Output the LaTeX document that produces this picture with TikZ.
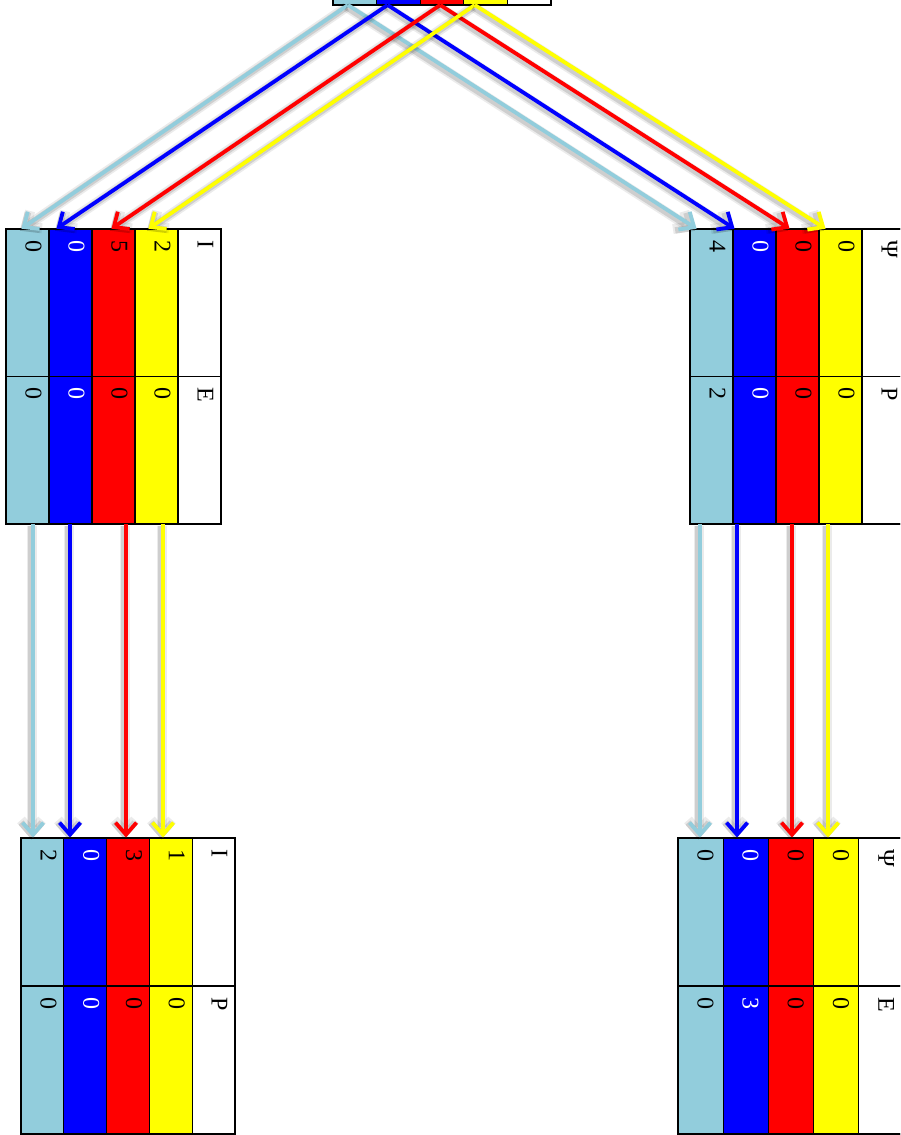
\documentclass[tikz,border=0pt]{standalone}
\usepackage{fontspec}
\setmainfont{Liberation Serif}
\usetikzlibrary{arrows.meta}
\definecolor{cLB}{RGB}{146,205,220}
\definecolor{cB}{RGB}{0,0,255}
\definecolor{cR}{RGB}{255,0,0}
\definecolor{cY}{RGB}{255,255,0}
\tikzset{
  cellbox/.style={draw, line width=1.3pt, inner sep=0pt, outer sep=0pt, anchor=north west},
  celltext/.style={rotate=-90, anchor=base west, inner sep=0pt, outer sep=0pt, font=\fontsize{24}{30}\selectfont},
  arr/.style={line width=3.8pt, -{Straight Barb[length=12pt,width=21pt]}, shorten >=0.5pt,
    preaction={draw=black, opacity=0.08, line width=10pt, transform canvas={shift={(-1.5pt,-2pt)}}},
    preaction={draw=black, opacity=0.12, line width=6.5pt, transform canvas={shift={(-1.5pt,-2pt)}}}},
  frame/.style={draw, line width=2.2pt}
}
% #1 name, #2 x, #3 y, #4 width, #5 row height, #6 fill, #7 text colour, #8 top label, #9 bottom label
\newcommand\tcol[9]{%
  \node[cellbox, fill=#6, minimum width=#4pt, minimum height=#5pt] (#1a) at (#2,#3) {};
  \node[cellbox, fill=#6, minimum width=#4pt, minimum height=#5pt] (#1b) at (#1a.south west) {};
  \coordinate (#1ap) at ([shift={(19.5pt,-11pt)}]#1a.north west);
  \coordinate (#1bp) at ([shift={(19.5pt,-11pt)}]#1b.north west);
  \node[celltext, text=#7] (#1at) at (#1ap) {#8};
  \node[celltext, text=#7] (#1bt) at (#1bp) {#9};
}
\begin{document}
\begin{tikzpicture}[x=1pt, y=-1pt]
\useasboundingbox (0,0) rectangle (900,1135);
\clip (0,0) rectangle (900,1135);

% top (partly visible) table
\node[cellbox, fill=cLB,   minimum width=43.6pt, minimum height=148pt] (T1) at (333,-143) {};
\node[cellbox, fill=cB,    minimum width=43.6pt, minimum height=148pt] (T2) at (T1.north east) {};
\node[cellbox, fill=cR,    minimum width=43.6pt, minimum height=148pt] (T3) at (T2.north east) {};
\node[cellbox, fill=cY,    minimum width=43.6pt, minimum height=148pt] (T4) at (T3.north east) {};
\node[cellbox, fill=white, minimum width=43.6pt, minimum height=148pt] (T5) at (T4.north east) {};
\draw[frame] (T1.north west) rectangle (T5.south east);

% top-left table
\tcol{L1}{6}{229}{43}{147.5}{cLB}{black}{0}{0}
\tcol{L2}{49}{229}{43}{147.5}{cB}{white}{0}{0}
\tcol{L3}{92}{229}{43}{147.5}{cR}{black}{5}{0}
\tcol{L4}{135}{229}{43}{147.5}{cY}{black}{2}{0}
\tcol{L5}{178}{229}{43}{147.5}{white}{black}{I}{E}
\draw[frame] (L1a.north west) rectangle (L5b.south east);

% top-right table
\tcol{R1}{690}{229}{43}{147.5}{cLB}{black}{4}{2}
\tcol{R2}{733}{229}{43}{147.5}{cB}{white}{0}{0}
\tcol{R3}{776}{229}{43}{147.5}{cR}{black}{0}{0}
\tcol{R4}{819}{229}{43}{147.5}{cY}{black}{0}{0}
\tcol{R5}{862}{229}{43}{147.5}{white}{black}{Ψ}{P}
\draw[frame] (R1a.north west) rectangle (R5b.south east);

% bottom-left table
\tcol{P1}{21}{838}{42.8}{148}{cLB}{black}{2}{0}
\tcol{P2}{63.8}{838}{42.8}{148}{cB}{white}{0}{0}
\tcol{P3}{106.6}{838}{42.8}{148}{cR}{black}{3}{0}
\tcol{P4}{149.4}{838}{42.8}{148}{cY}{black}{1}{0}
\tcol{P5}{192.2}{838}{42.8}{148}{white}{black}{I}{P}
\draw[frame] (P1a.north west) rectangle (P5b.south east);

% bottom-right table
\tcol{Q1}{678}{838}{45.2}{148}{cLB}{black}{0}{0}
\tcol{Q2}{723.2}{838}{45.2}{148}{cB}{white}{0}{3}
\tcol{Q3}{768.4}{838}{45.2}{148}{cR}{black}{0}{0}
\tcol{Q4}{813.6}{838}{45.2}{148}{cY}{black}{0}{0}
\tcol{Q5}{858.8}{838}{45.2}{148}{white}{black}{Ψ}{E}
\draw[frame] (Q1a.north west) rectangle (Q5b.south east);

% arrows from the top table
\draw[arr, draw=cLB] ([xshift=15pt]T1.south west) -- ([xshift=15pt]L1a.north west);
\draw[arr, draw=cLB] ([xshift=15pt]T1.south west) -- ([xshift=7pt]R1a.north west);
\draw[arr, draw=cB]  ([xshift=11pt]T2.south west) -- ([xshift=7pt]L2a.north west);
\draw[arr, draw=cB]  ([xshift=11pt]T2.south west) -- ([xshift=2pt]R2a.north west);
\draw[arr, draw=cR]  ([xshift=20pt]T3.south west) -- ([xshift=19pt]L3a.north west);
\draw[arr, draw=cR]  ([xshift=20pt]T3.south west) -- ([xshift=14pt]R3a.north west);
\draw[arr, draw=cY]  ([xshift=11pt]T4.south west) -- ([xshift=13pt]L4a.north west);
\draw[arr, draw=cY]  ([xshift=11pt]T4.south west) -- ([xshift=7pt]R4a.north west);

% vertical arrows, left
\draw[arr, draw=cLB] ([xshift=27pt]L1b.south west) -- ([xshift=12pt]P1a.north west);
\draw[arr, draw=cB]  ([xshift=21pt]L2b.south west) -- ([xshift=6.2pt]P2a.north west);
\draw[arr, draw=cR]  ([xshift=34pt]L3b.south west) -- ([xshift=19.4pt]P3a.north west);
\draw[arr, draw=cY]  ([xshift=28pt]L4b.south west) -- ([xshift=13.6pt]P4a.north west);

% vertical arrows, right
\draw[arr, draw=cLB] ([xshift=10pt]R1b.south west) -- ([xshift=22pt]Q1a.north west);
\draw[arr, draw=cB]  ([xshift=4pt]R2b.south west) -- ([xshift=13.8pt]Q2a.north west);
\draw[arr, draw=cR]  ([xshift=16pt]R3b.south west) -- ([xshift=23.6pt]Q3a.north west);
\draw[arr, draw=cY]  ([xshift=9pt]R4b.south west) -- ([xshift=14.4pt]Q4a.north west);
\end{tikzpicture}
\end{document}
